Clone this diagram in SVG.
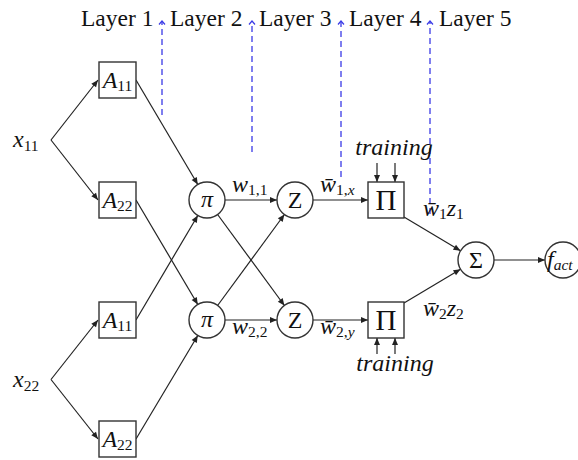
<svg xmlns="http://www.w3.org/2000/svg" width="578" height="460" viewBox="0 0 578 460">
<style>
text{font-family:"Liberation Serif","DejaVu Serif",serif;fill:#111}
.lay{font-size:23.5px}
.it{font-style:italic}
.sub{font-size:15.5px;font-style:normal}
.node{fill:#fff;stroke:#333;stroke-width:1.4}
.edge{fill:none;stroke:#222;stroke-width:1.2;marker-end:url(#ah)}
.dash{fill:none;stroke:#3a3ae6;stroke-width:1.3;stroke-dasharray:6 4;marker-end:url(#ch)}
</style>
<defs>
<marker id="ah" markerUnits="userSpaceOnUse" markerWidth="10" markerHeight="10" viewBox="-8 -4 10 8" refX="0" refY="0" orient="auto">
<path d="M-7,-3 L0,0 L-7,3 z" fill="#222"/>
</marker>
<marker id="ch" markerUnits="userSpaceOnUse" markerWidth="10" markerHeight="10" viewBox="-5 -5 10 10" refX="0" refY="0" orient="auto">
<path d="M-3.5,-3 L0,0 L-3.5,3" fill="none" stroke="#3a3ae6" stroke-width="1.2"/>
</marker>
</defs>

<g id="layers">
<text class="lay" x="81" y="26">Layer 1</text>
<text class="lay" x="170" y="26">Layer 2</text>
<text class="lay" x="259" y="26">Layer 3</text>
<text class="lay" x="349" y="26">Layer 4</text>
<text class="lay" x="439" y="26">Layer 5</text>
</g>

<g id="connectors">
<path class="dash" d="M162,115 L162,21"/>
<path class="dash" d="M252,152 L252,21"/>
<path class="dash" d="M341,177 L341,21"/>
<path class="dash" d="M430,214 L430,21"/>

<path class="edge" d="M51,140 L98,80"/>
<path class="edge" d="M51,140 L98,200"/>
<path class="edge" d="M51,379.5 L98,320"/>
<path class="edge" d="M51,379.5 L98,439"/>

<path class="edge" d="M136,80 L197.8,184.5"/>
<path class="edge" d="M136,200 L197.8,304.5"/>
<path class="edge" d="M136,320 L197.8,215.5"/>
<path class="edge" d="M136,439 L197.8,335.5"/>

<path class="edge" d="M225,200 L277,200"/>
<path class="edge" d="M217.6,214.5 L284.4,305.5"/>
<path class="edge" d="M217.6,305.5 L284.4,214.5"/>
<path class="edge" d="M225,320 L277,320"/>

<path class="edge" d="M313,200 L368,200"/>
<path class="edge" d="M313,320 L368,320"/>

<path class="edge" d="M404,217 L460.5,250.8"/>
<path class="edge" d="M404,303 L460.5,269.2"/>
<path class="edge" d="M494,260 L545,260"/>

<path class="edge" d="M377,163 L377,182"/>
<path class="edge" d="M395,163 L395,182"/>
<path class="edge" d="M377,354 L377,338"/>
<path class="edge" d="M395,354 L395,338"/>
</g>

<g id="x11"><text x="13" y="147" font-size="24"><tspan class="it">x</tspan><tspan class="sub" dy="4">11</tspan></text></g>
<g id="x22"><text x="13" y="387" font-size="24"><tspan class="it">x</tspan><tspan class="sub" dy="4">22</tspan></text></g>

<g id="A11a"><rect class="node" x="99" y="62" width="37" height="36"/>
<text x="117.5" y="88" font-size="24" text-anchor="middle"><tspan class="it">A</tspan><tspan class="sub" dy="3">11</tspan></text></g>
<g id="A22a"><rect class="node" x="99" y="182" width="37" height="36"/>
<text x="117.5" y="208" font-size="24" text-anchor="middle"><tspan class="it">A</tspan><tspan class="sub" dy="3">22</tspan></text></g>
<g id="A11b"><rect class="node" x="99" y="302" width="37" height="36"/>
<text x="117.5" y="328" font-size="24" text-anchor="middle"><tspan class="it">A</tspan><tspan class="sub" dy="3">11</tspan></text></g>
<g id="A22b"><rect class="node" x="99" y="421" width="37" height="36"/>
<text x="117.5" y="447" font-size="24" text-anchor="middle"><tspan class="it">A</tspan><tspan class="sub" dy="3">22</tspan></text></g>

<g id="pi1"><circle class="node" cx="207" cy="200" r="18"/>
<text class="it" x="207" y="207" font-size="24" text-anchor="middle">π</text></g>
<g id="pi2"><circle class="node" cx="207" cy="320" r="18"/>
<text class="it" x="207" y="327" font-size="24" text-anchor="middle">π</text></g>

<g id="Z1"><circle class="node" cx="295" cy="200" r="18"/>
<text x="295" y="208" font-size="24" text-anchor="middle">Z</text></g>
<g id="Z2"><circle class="node" cx="295" cy="320" r="18"/>
<text x="295" y="328" font-size="24" text-anchor="middle">Z</text></g>

<g id="Prod1"><rect class="node" x="368" y="182" width="36" height="36"/>
<text x="386" y="210" font-size="29" text-anchor="middle">Π</text></g>
<g id="Prod2"><rect class="node" x="368" y="302" width="36" height="36"/>
<text x="386" y="330" font-size="29" text-anchor="middle">Π</text></g>

<g id="Sigma"><circle class="node" cx="476" cy="260" r="18"/>
<text x="476" y="268" font-size="24" text-anchor="middle">Σ</text></g>

<g id="fact"><circle class="node" cx="563" cy="260" r="18"/>
<text x="547" y="267" font-size="24"><tspan class="it">f</tspan><tspan class="sub" dy="3" style="font-style:italic">act</tspan></text></g>

<g id="labels">
<text x="232" y="192" font-size="24"><tspan class="it">w</tspan><tspan class="sub" dy="3">1,1</tspan></text>
<text x="232" y="334" font-size="24"><tspan class="it">w</tspan><tspan class="sub" dy="3">2,2</tspan></text>
<text x="320" y="192" font-size="24"><tspan class="it">w̄</tspan><tspan class="sub" dy="3">1,</tspan><tspan class="sub" style="font-style:italic">x</tspan></text>
<text x="320" y="334" font-size="24"><tspan class="it">w̄</tspan><tspan class="sub" dy="3">2,</tspan><tspan class="sub" style="font-style:italic">y</tspan></text>
<text x="423" y="216" font-size="24"><tspan class="it">w̄</tspan><tspan class="sub" dy="3">1</tspan><tspan class="it" dy="-3">z</tspan><tspan class="sub" dy="3">1</tspan></text>
<text x="423" y="316" font-size="24"><tspan class="it">w̄</tspan><tspan class="sub" dy="3">2</tspan><tspan class="it" dy="-3">z</tspan><tspan class="sub" dy="3">2</tspan></text>
<text class="it" x="394" y="155" font-size="24" text-anchor="middle">training</text>
<text class="it" x="395" y="371" font-size="24" text-anchor="middle">training</text>
</g>
</svg>
